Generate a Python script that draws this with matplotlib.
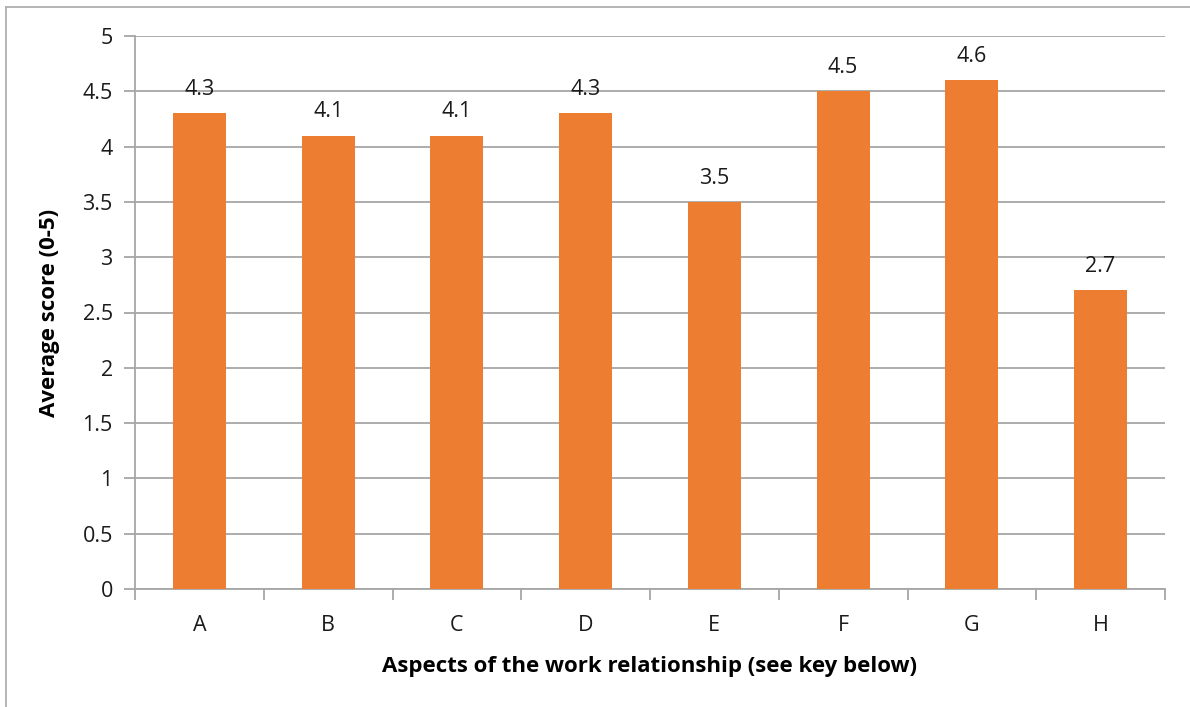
import matplotlib.pyplot as plt
from matplotlib.lines import Line2D

categories = ["A", "B", "C", "D", "E", "F", "G", "H"]
scores = [4.3, 4.1, 4.1, 4.3, 3.5, 4.5, 4.6, 2.7]
yticks = [0, 0.5, 1, 1.5, 2, 2.5, 3, 3.5, 4, 4.5, 5]
ytick_labels = ["0", "0.5", "1", "1.5", "2", "2.5", "3", "3.5", "4", "4.5", "5"]

plt.rcParams["font.family"] = ["Open Sans", "DejaVu Sans"]
grid_col = "#a6a6a6"
bar_col = "#ed7d31"

fig = plt.figure(figsize=(11.9, 7.07), dpi=100)
W, H = 1190, 707
ax = fig.add_axes([135 / W, 1 - 589 / H, (1165 - 135) / W, (589 - 36) / H])

x = list(range(len(categories)))
ax.bar(x, scores, width=0.41, color=bar_col, zorder=3)
for xi, v in zip(x, scores):
    ax.text(xi, v + 0.12, f"{v:g}", ha="center", va="bottom", fontsize=15.5, color="#1a1a1a", zorder=4)

ax.set_xlim(-0.5, len(categories) - 0.5)
ax.set_ylim(0, 5)
ax.set_yticks(yticks)
ax.set_yticklabels(ytick_labels, fontsize=15.5, color="#1a1a1a")
ax.set_xticks(x)
ax.set_xticklabels(categories, fontsize=15.5, color="#1a1a1a")
ax.set_xticks([i - 0.5 for i in range(len(categories) + 1)], minor=True)

ax.yaxis.grid(True, color=grid_col, linewidth=1.3, zorder=0)
ax.tick_params(axis="x", which="major", length=0, pad=19)
ax.tick_params(axis="x", which="minor", length=8, width=1.3, color=grid_col, direction="out")
ax.tick_params(axis="y", length=8, width=1.3, color=grid_col, pad=8)

for s in ["top", "right"]:
    ax.spines[s].set_visible(False)
for s in ["left", "bottom"]:
    ax.spines[s].set_color(grid_col)
    ax.spines[s].set_linewidth(1.3)

ax.set_ylabel("Average score (0-5)", fontsize=16, fontweight="bold", labelpad=16)
ax.set_xlabel("Aspects of the work relationship (see key below)", fontsize=16, fontweight="bold", labelpad=14)

# outer frame of the chart area
fig.add_artist(Line2D([6 / W, 6 / W], [0, 1 - 7 / H], color="#b0b0b0", linewidth=1.3, transform=fig.transFigure))
fig.add_artist(Line2D([6 / W, 1], [1 - 7 / H, 1 - 7 / H], color="#b0b0b0", linewidth=1.3, transform=fig.transFigure))

fig.savefig("out.png", dpi=100)
